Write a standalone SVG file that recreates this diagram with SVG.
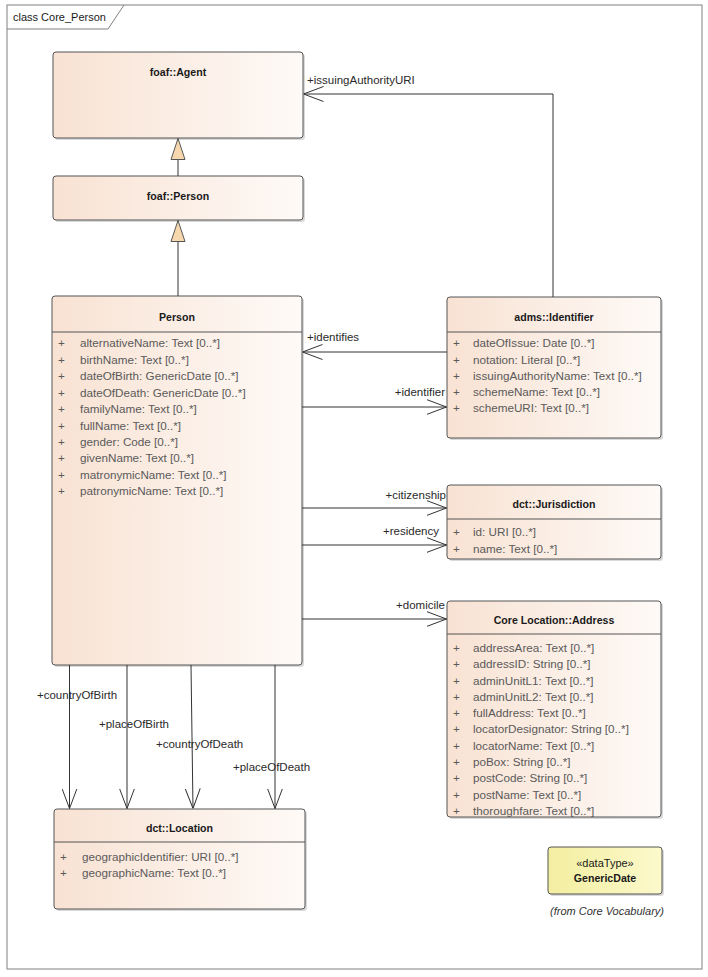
<svg xmlns="http://www.w3.org/2000/svg" width="708" height="977" viewBox="0 0 708 977">
<defs>
<linearGradient id="peach" x1="0" y1="0" x2="1" y2="0">
<stop offset="0" stop-color="#F8E2D3"/>
<stop offset="1" stop-color="#FEFAF7"/>
</linearGradient>
<linearGradient id="yellow" x1="0" y1="0" x2="1" y2="0">
<stop offset="0" stop-color="#F3EEA0"/>
<stop offset="1" stop-color="#FCF9CC"/>
</linearGradient>
<marker id="open" markerUnits="userSpaceOnUse" viewBox="0 0 20 16" refX="20" refY="8" markerWidth="20" markerHeight="16" orient="auto">
<path d="M0,0.5 L20,8 L0,15.5" fill="none" stroke="#333" stroke-width="1"/>
</marker>
<marker id="gen" markerUnits="userSpaceOnUse" viewBox="0 0 22 16" refX="21.5" refY="8" markerWidth="22" markerHeight="16" orient="auto">
<path d="M0.5,1 L21.5,8 L0.5,15 Z" fill="#F7D8AE" stroke="#555" stroke-width="1"/>
</marker>
</defs>
<style>
.frame{fill:#fff;stroke:#808080;stroke-width:1}
.box{fill:url(#peach);stroke:#555;stroke-width:1}
.dt{fill:url(#yellow);stroke:#555;stroke-width:1}
.shadow{fill:#000;opacity:0.15}
.sep{stroke:#555;stroke-width:1}
.title{font-family:"Liberation Sans",Arial,sans-serif;font-size:10.6px;font-weight:bold;fill:#1a1a1a;text-anchor:middle}
.attr{font-family:"Liberation Sans",Arial,sans-serif;font-size:11.7px;fill:#5a5a5a}
.lbl{font-family:"Liberation Sans",Arial,sans-serif;font-size:11.5px;fill:#2a2a2a}
.conn{fill:none;stroke:#333;stroke-width:1}
.frametxt{font-family:"Liberation Sans",Arial,sans-serif;font-size:11px;fill:#1a1a1a}
.st{font-family:"Liberation Sans",Arial,sans-serif;font-size:11px;fill:#1a1a1a;text-anchor:middle}
.note{font-family:"Liberation Sans",Arial,sans-serif;font-size:11px;font-style:italic;fill:#333;text-anchor:middle}
</style>

<rect class="frame" x="7" y="5" width="695" height="964"/>
<path d="M7,29 H108 L124,5" fill="none" stroke="#808080" stroke-width="1"/>
<text class="frametxt" x="13" y="21">class Core_Person</text>

<g id="foaf-agent">
<rect class="shadow" x="55" y="54" width="250" height="86" rx="3"/>
<rect class="box" x="53" y="52" width="250" height="86" rx="3"/>
<text class="title" x="178" y="76">foaf::Agent</text>
</g>

<g id="foaf-person">
<rect class="shadow" x="55" y="178" width="250" height="44" rx="3"/>
<rect class="box" x="53" y="176" width="250" height="44" rx="3"/>
<text class="title" x="178" y="200">foaf::Person</text>
</g>

<g id="person">
<rect class="shadow" x="54" y="298" width="250" height="369" rx="3"/>
<rect class="box" x="52" y="296" width="250" height="369" rx="3"/>
<line class="sep" x1="52" y1="332" x2="302" y2="332"/>
<text class="title" x="177" y="321">Person</text>
<g class="attr">
<text x="58" y="347">+</text><text x="80" y="347">alternativeName: Text [0..*]</text>
<text x="58" y="364">+</text><text x="80" y="364">birthName: Text [0..*]</text>
<text x="58" y="380">+</text><text x="80" y="380">dateOfBirth: GenericDate [0..*]</text>
<text x="58" y="397">+</text><text x="80" y="397">dateOfDeath: GenericDate [0..*]</text>
<text x="58" y="413">+</text><text x="80" y="413">familyName: Text [0..*]</text>
<text x="58" y="430">+</text><text x="80" y="430">fullName: Text [0..*]</text>
<text x="58" y="446">+</text><text x="80" y="446">gender: Code [0..*]</text>
<text x="58" y="462">+</text><text x="80" y="462">givenName: Text [0..*]</text>
<text x="58" y="479">+</text><text x="80" y="479">matronymicName: Text [0..*]</text>
<text x="58" y="495">+</text><text x="80" y="495">patronymicName: Text [0..*]</text>
</g>
</g>

<g id="adms-identifier">
<rect class="shadow" x="449" y="299" width="214" height="141" rx="3"/>
<rect class="box" x="447" y="297" width="214" height="141" rx="3"/>
<line class="sep" x1="447" y1="332" x2="661" y2="332"/>
<text class="title" x="554" y="321">adms::Identifier</text>
<g class="attr">
<text x="453" y="347">+</text><text x="473" y="347">dateOfIssue: Date [0..*]</text>
<text x="453" y="364">+</text><text x="473" y="364">notation: Literal [0..*]</text>
<text x="453" y="380">+</text><text x="473" y="380">issuingAuthorityName: Text [0..*]</text>
<text x="453" y="396">+</text><text x="473" y="396">schemeName: Text [0..*]</text>
<text x="453" y="412">+</text><text x="473" y="412">schemeURI: Text [0..*]</text>
</g>
</g>

<g id="dct-jurisdiction">
<rect class="shadow" x="449" y="487" width="214" height="74" rx="3"/>
<rect class="box" x="447" y="485" width="214" height="74" rx="3"/>
<line class="sep" x1="447" y1="519" x2="661" y2="519"/>
<text class="title" x="554" y="508">dct::Jurisdiction</text>
<g class="attr">
<text x="453" y="536">+</text><text x="473" y="536">id: URI [0..*]</text>
<text x="453" y="553">+</text><text x="473" y="553">name: Text [0..*]</text>
</g>
</g>

<g id="core-location-address">
<rect class="shadow" x="449" y="603" width="214" height="216" rx="3"/>
<rect class="box" x="447" y="601" width="214" height="216" rx="3"/>
<line class="sep" x1="447" y1="634" x2="661" y2="634"/>
<text class="title" x="554" y="624">Core Location::Address</text>
<g class="attr">
<text x="453" y="652">+</text><text x="473" y="652">addressArea: Text [0..*]</text>
<text x="453" y="668">+</text><text x="473" y="668">addressID: String [0..*]</text>
<text x="453" y="685">+</text><text x="473" y="685">adminUnitL1: Text [0..*]</text>
<text x="453" y="701">+</text><text x="473" y="701">adminUnitL2: Text [0..*]</text>
<text x="453" y="717">+</text><text x="473" y="717">fullAddress: Text [0..*]</text>
<text x="453" y="733">+</text><text x="473" y="733">locatorDesignator: String [0..*]</text>
<text x="453" y="750">+</text><text x="473" y="750">locatorName: Text [0..*]</text>
<text x="453" y="766">+</text><text x="473" y="766">poBox: String [0..*]</text>
<text x="453" y="782">+</text><text x="473" y="782">postCode: String [0..*]</text>
<text x="453" y="799">+</text><text x="473" y="799">postName: Text [0..*]</text>
<text x="453" y="815">+</text><text x="473" y="815">thoroughfare: Text [0..*]</text>
</g>
</g>

<g id="dct-location">
<rect class="shadow" x="56" y="811" width="251" height="100" rx="3"/>
<rect class="box" x="54" y="809" width="251" height="100" rx="3"/>
<line class="sep" x1="54" y1="842" x2="305" y2="842"/>
<text class="title" x="179.5" y="832">dct::Location</text>
<g class="attr">
<text x="60" y="861">+</text><text x="82" y="861">geographicIdentifier: URI [0..*]</text>
<text x="60" y="877">+</text><text x="82" y="877">geographicName: Text [0..*]</text>
</g>
</g>

<g id="generic-date">
<rect class="shadow" x="550" y="849" width="114" height="47" rx="3"/>
<rect class="dt" x="548" y="847" width="114" height="47" rx="3"/>
<text class="st" x="605" y="867">«dataType»</text>
<text class="title" x="605" y="882">GenericDate</text>
<text class="note" x="607" y="915">(from Core Vocabulary)</text>
</g>

<g id="connectors">
<line class="conn" x1="178" y1="176" x2="178" y2="138.5" marker-end="url(#gen)"/>
<line class="conn" x1="178" y1="296" x2="178" y2="220.5" marker-end="url(#gen)"/>
<polyline class="conn" points="553,297 553,94 303.5,94" marker-end="url(#open)"/>
<text class="lbl" x="307" y="84">+issuingAuthorityURI</text>
<line class="conn" x1="447" y1="352" x2="302.5" y2="352" marker-end="url(#open)"/>
<text class="lbl" x="307" y="341">+identifies</text>
<line class="conn" x1="302" y1="407" x2="446.5" y2="407" marker-end="url(#open)"/>
<text class="lbl" x="445" y="396" text-anchor="end">+identifier</text>
<line class="conn" x1="302" y1="508" x2="446.5" y2="508" marker-end="url(#open)"/>
<text class="lbl" x="446" y="499" text-anchor="end">+citizenship</text>
<line class="conn" x1="302" y1="545" x2="446.5" y2="545" marker-end="url(#open)"/>
<text class="lbl" x="439" y="535" text-anchor="end">+residency</text>
<line class="conn" x1="302" y1="619" x2="446.5" y2="619" marker-end="url(#open)"/>
<text class="lbl" x="445" y="609" text-anchor="end">+domicile</text>
<line class="conn" x1="69.5" y1="665" x2="69.5" y2="808.5" marker-end="url(#open)"/>
<text class="lbl" x="37" y="699">+countryOfBirth</text>
<line class="conn" x1="127" y1="665" x2="127" y2="808.5" marker-end="url(#open)"/>
<text class="lbl" x="99" y="728">+placeOfBirth</text>
<line class="conn" x1="191" y1="665" x2="193" y2="808.5" marker-end="url(#open)"/>
<text class="lbl" x="156" y="748">+countryOfDeath</text>
<line class="conn" x1="275" y1="665" x2="275" y2="808.5" marker-end="url(#open)"/>
<text class="lbl" x="233" y="771">+placeOfDeath</text>
</g>
</svg>
